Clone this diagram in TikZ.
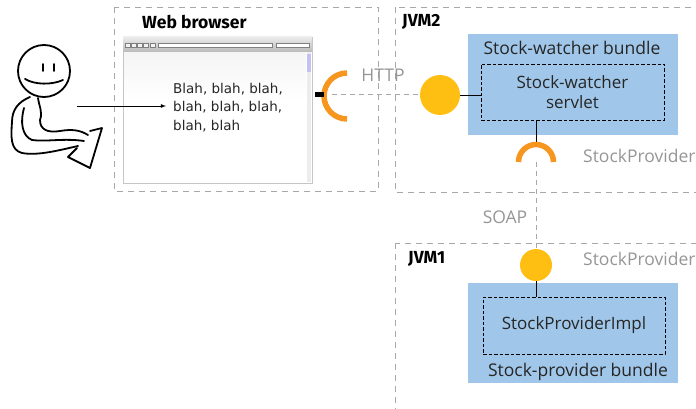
\documentclass[tikz,border=0pt]{standalone}
\usepackage{fontspec}
\setmainfont{DejaVu Sans}
\newfontfamily\handfont{Open Sans}
\newfontfamily\titlefont{Fira Sans}
\usetikzlibrary{positioning,calc,arrows}

\definecolor{bundleblue}{RGB}{160,199,233}
\definecolor{svcyellow}{RGB}{255,191,18}
\definecolor{sockorange}{RGB}{247,150,30}
\definecolor{wiregray}{RGB}{168,168,168}
\definecolor{labelgray}{RGB}{150,150,150}

\tikzset{container/.style={draw=wiregray,dash pattern=on 6pt off 5pt,line width=0.9pt}}
\tikzset{wire/.style={draw=wiregray,dash pattern=on 5pt off 4pt,line width=1pt}}
\tikzset{bundle/.style={fill=bundleblue,minimum width=210pt,inner sep=0pt}}
\tikzset{comp/.style={draw,dash pattern=on 3.5pt off 2pt,line width=0.8pt,align=center,
  font=\handfont\fontsize{17}{20}\selectfont,text=black!85}}
\tikzset{service/.style={circle,fill=svcyellow,inner sep=0pt}}
\tikzset{socket/.style={draw=sockorange,line width=5.5pt}}
\tikzset{boxtitle/.style={anchor=west,inner sep=0pt,font=\titlefont\bfseries\fontsize{17.5}{20}\selectfont}}
\tikzset{hand/.style={inner sep=0pt,font=\handfont\fontsize{17.5}{20}\selectfont,text=black!85}}
\tikzset{proto/.style={hand,text=labelgray}}
\tikzset{sketch/.style={line width=1.8pt,line cap=round,line join=round}}

\begin{document}
\begin{tikzpicture}[x=1pt,y=-1pt]
  \useasboundingbox (0,0) rectangle (696,409);
  \clip (0,0) rectangle (696,409);

  % dashed containers
  \draw[container] (114,7) rectangle (378,191);
  \draw[container] (395,7) rectangle (710,192);
  \draw[container] (395,243) rectangle (710,420);
  \node[boxtitle] (browsertitle) at (142,22) {Web browser};
  \node[boxtitle] (jvmtwotitle) at (402,22) {JVM2};
  \node[boxtitle] (jvmonetitle) at (408,259) {JVM1};

  % the user
  \begin{scope}[sketch]
    \draw (44,71) circle (26pt);
    \draw (43,64) -- (43,71);
    \draw (54,64) -- (54,71);
    \draw (25,79) .. controls (35,85) and (52,85) .. (63,80);
    \draw (30,97) .. controls (18,102) and (12,110) .. (12,122)
                  .. controls (11,136) and (10,150) .. (22,153)
                  .. controls (38,156) and (60,150) .. (78,146);
    \draw (38,98) .. controls (39,106) and (43,112) .. (40,120)
                  .. controls (40,130) and (48,133) .. (60,131)
                  .. controls (72,129) and (80,130) .. (88,135);
    \draw (24,108) .. controls (20,122) and (22,136) .. (32,140)
                   .. controls (46,142) and (64,138) .. (84,141);
    \draw (77,148) -- (68,157) -- (90,168) -- (102,128) -- (90,131);
  \end{scope}
  \coordinate (hand) at (77,106);

  % browser window
  \node[draw=gray!45,fill=white,minimum width=189pt,minimum height=146pt,inner sep=0pt] (window) at (217.5,110) {};
  \shade[top color=gray!8,bottom color=white] (124,52) rectangle (306,100);
  \shade[top color=gray!15,bottom color=gray!55] (123,37) rectangle (312,52);
  \foreach \x in {125,131,137,143,150}
    \draw[gray,fill=gray!10,line width=0.3pt] (\x,43) rectangle ++(5,4);
  \draw[gray,fill=white,line width=0.3pt] (158,43) rectangle (272,47);
  \draw[gray,fill=white,line width=0.3pt] (276,43) rectangle (309,47);
  \fill[gray!15] (307,52) rectangle (311,182);
  \fill[gray!40!blue!30] (307,54) rectangle (311,72);
  \node[anchor=north west,align=left,inner sep=0pt,font=\fontsize{13.5}{18.5}\selectfont,text=black!85] (page) at (173,83)
    {Blah, blah, blah,\\blah, blah, blah,\\blah, blah};
  \draw[-latex,line width=0.8pt] (hand) -- ([xshift=-7pt]hand -| page.west);

  % stock-watcher side
  \node[bundle,minimum height=101pt] (watcher) at (573,84.5) {};
  \node[hand] (watcherlbl) at (572,48) {Stock-watcher bundle};
  \node[comp,minimum width=183pt,minimum height=56pt] (servlet) at (572.5,92) {Stock-watcher\\servlet};
  \node[service,minimum size=40pt] (httpsvc) at (440,95) {};
  \draw[line width=0.8pt] (httpsvc.east) -- (httpsvc.east -| servlet.west);

  % HTTP socket on the browser
  \coordinate (httpsock) at (347,96);
  \coordinate (stub) at (315,95);
  \coordinate (sockedge) at (324,95);
  \draw[socket] ($(httpsock)+(0pt,23pt)$) arc[start angle=90,end angle=270,radius=23pt];
  \draw[line width=5pt] (stub) -- (sockedge);
  \draw[wire] (332,95) -- (httpsvc.west);
  \node[proto] (httplbl) at (383,75) {HTTP};

  % StockProvider socket
  \coordinate (provsock) at (536,162);
  \draw[line width=0.8pt] (servlet.south -| provsock) -- ($(provsock)+(0pt,17pt)$);
  \draw[socket] ($(provsock)+(17.5pt,0pt)$) arc[start angle=0,end angle=180,radius=17.5pt];
  \node[proto,anchor=west] (needlbl) at (583,156) {StockProvider};

  % stock-provider side
  \node[bundle,minimum height=100pt] (provider) at (573,333) {};
  \node[comp,minimum width=182pt,minimum height=57pt] (impl) at (574,325.5) {StockProviderImpl};
  \node[hand] (providerlbl) at (578,372) {Stock-provider bundle};
  \node[service,minimum size=32pt] (provsvc) at (536,265) {};
  \draw[line width=0.8pt] (provsvc.south) -- (provsvc.south |- impl.north);
  \node[proto,anchor=west] (offerlbl) at (583,259) {StockProvider};

  % remote call
  \draw[wire] (provsock) -- (provsvc.north);
  \node[proto] (soaplbl) at (505,217) {SOAP};
\end{tikzpicture}
\end{document}
